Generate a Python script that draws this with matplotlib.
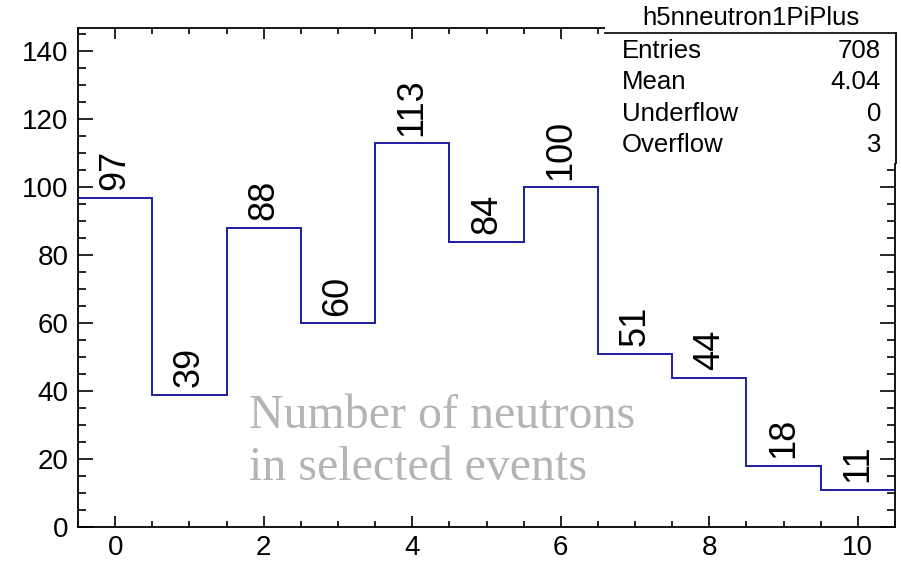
import matplotlib
import matplotlib.pyplot as plt
import numpy as np
from matplotlib.patches import Rectangle
from matplotlib.lines import Line2D
from matplotlib.ticker import MultipleLocator

matplotlib.use('agg')

# neutron multiplicity per event, one bin per integer count
n_neutrons = list(range(11))
counts = [97, 39, 88, 60, 113, 84, 100, 51, 44, 18, 11]

hist_name = 'h5nneutron1PiPlus'
stat_names = ['Entries', 'Mean', 'Underflow', 'Overflow']
stat_values = ['708', '4.04', '0', '3']

W, H = 901, 561
plt.rcParams['font.family'] = ['Liberation Sans', 'DejaVu Sans']

fig = plt.figure(figsize=(W / 100, H / 100), dpi=100)
ax = fig.add_axes([78 / W, 1 - 527 / H, (895 - 78) / W, (527 - 28) / H])

edges = np.arange(len(counts) + 1) - 0.5
ax.stairs(counts, edges, baseline=None, color='#1c1ca0', linewidth=1.4)

for x, c in zip(n_neutrons, counts):
    ax.annotate(str(c), (x, c), xytext=(0, 5.5), textcoords='offset points',
                rotation=90, ha='center', va='bottom', fontsize=26)

ax.set_xlim(-0.5, 10.5)
ax.set_ylim(0, 1.3 * max(counts))
ax.xaxis.set_major_locator(MultipleLocator(2))
ax.xaxis.set_minor_locator(MultipleLocator(0.5))
ax.yaxis.set_major_locator(MultipleLocator(20))
ax.yaxis.set_minor_locator(MultipleLocator(5))

ax.tick_params(which='both', direction='in', top=True, right=True, width=1.2, labelsize=20)
ax.tick_params(axis='x', which='major', length=8, pad=6)
ax.tick_params(axis='x', which='minor', length=4)
ax.tick_params(axis='y', which='major', length=11, pad=7)
ax.tick_params(axis='y', which='minor', length=6)
for s in ax.spines.values():
    s.set_linewidth(1.3)

# caption inside the frame
ax.text(1.8, 29.2, 'Number of neutrons', family='Liberation Serif', fontsize=34.5,
        color='#b4b4b4', ha='left', va='baseline')
ax.text(1.8, 13.9, 'in selected events', family='Liberation Serif', fontsize=34.5,
        color='#b4b4b4', ha='left', va='baseline')

# statistics box in the top right corner
def fx(px):
    return px / W

def fy(py):
    return 1 - py / H

fig.patches.append(Rectangle((fx(605), fy(163)), fx(W - 605), fy(0) - fy(163),
                             transform=fig.transFigure, facecolor='white',
                             edgecolor='none', zorder=5))
fig.lines.append(Line2D([fx(605), fx(896)], [fy(33), fy(33)], transform=fig.transFigure,
                        color='black', linewidth=1.2, zorder=6))
fig.lines.append(Line2D([fx(895.5), fx(895.5)], [fy(33), fy(163)], transform=fig.transFigure,
                        color='black', linewidth=1.3, zorder=6))
fig.text(fx(751), fy(18), hist_name, ha='center', va='center', fontsize=18.5, zorder=7)
for i, (name, val) in enumerate(zip(stat_names, stat_values)):
    y = fy(51 + 31.3 * i)
    fig.text(fx(622), y, name, ha='left', va='center', fontsize=18.5, zorder=7)
    fig.text(fx(881), y, val, ha='right', va='center', fontsize=18.5, zorder=7)

fig.savefig('out.png', dpi=100)
